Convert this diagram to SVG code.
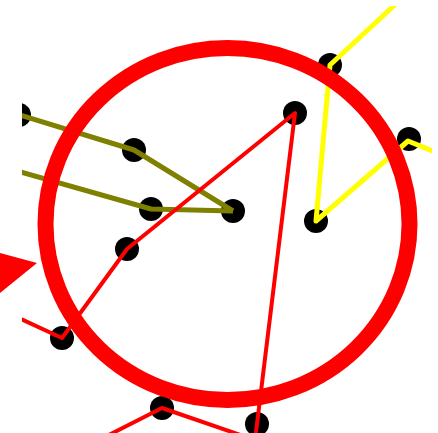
<svg xmlns="http://www.w3.org/2000/svg" width="438" height="433" viewBox="0 0 438 433">
<style>
.dot{fill:#000}
.ln{fill:none;stroke-linejoin:round;stroke-linecap:butt}
.olive{stroke:#808000;stroke-width:5}
.red{stroke:#ff0000;stroke-width:4}
.yellow{stroke:#ffff00;stroke-width:5}
</style>
<defs>
<clipPath id="vp"><rect x="22" y="6" width="410" height="427"/></clipPath>
</defs>
<rect width="438" height="433" fill="#fff"/>
<g clip-path="url(#vp)">
<g id="nodes">
<circle id="n1" class="dot" cx="19" cy="115" r="12"/>
<circle id="n2" class="dot" cx="134" cy="150" r="12"/>
<circle id="n3" class="dot" cx="151" cy="209" r="12"/>
<circle id="n4" class="dot" cx="233" cy="211" r="12"/>
<circle id="n5" class="dot" cx="127" cy="249" r="12"/>
<circle id="n6" class="dot" cx="62" cy="338" r="12"/>
<circle id="n7" class="dot" cx="295" cy="113" r="12"/>
<circle id="n8" class="dot" cx="330" cy="65" r="12"/>
<circle id="n9" class="dot" cx="316" cy="221" r="12"/>
<circle id="n10" class="dot" cx="409" cy="139" r="12"/>
<circle id="n11" class="dot" cx="162" cy="408" r="12"/>
<circle id="n12" class="dot" cx="257" cy="424" r="12"/>
</g>
<g id="connectors">
<polyline class="ln olive" points="10,112 134,150 233,211"/>
<polyline class="ln olive" points="10,169 151,209 233,211"/>
<polyline class="ln red" points="10,314 62,338 127,249 295,113 257,424 255,440"/>
<polyline class="ln red" points="95,442 162,408 255,440"/>
<polyline class="ln yellow" points="400,0 330,65 316,221 408,141 440,154"/>
</g>
</g>
<g id="marks">
<polygon points="0,253 37,263 0,293" fill="#ff0000"/>
<ellipse cx="227.5" cy="224" rx="182" ry="176" fill="none" stroke="#ff0000" stroke-width="16"/>
</g>
</svg>
